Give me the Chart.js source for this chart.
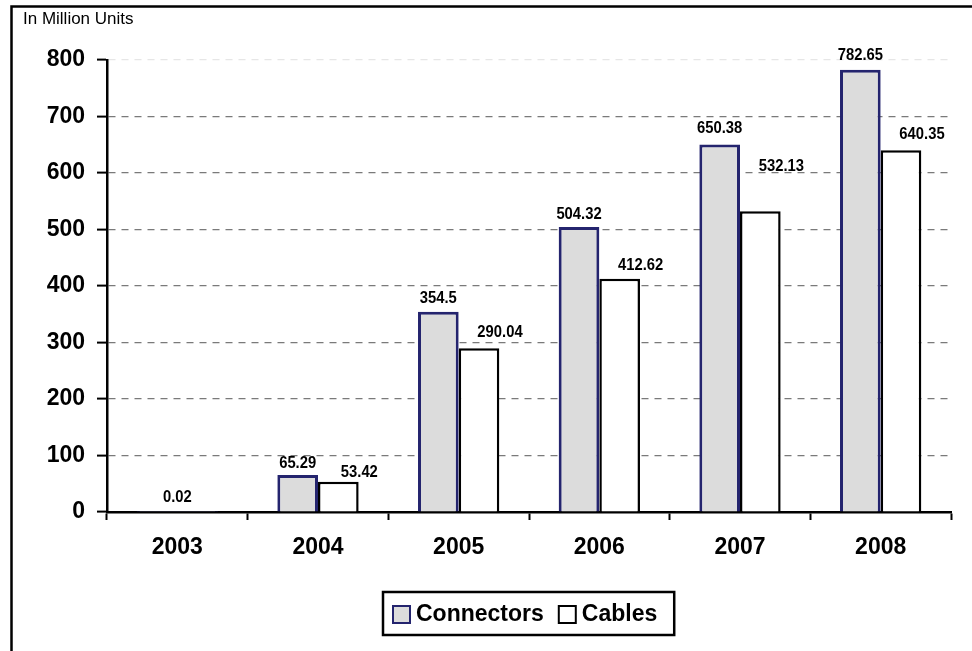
<!DOCTYPE html>
<html lang="en">

<head>
    <meta charset="UTF-8">
    <title>Connectors and Cables</title>
    <script src="https://cdn.jsdelivr.net/npm/chart.js"></script>
    <style>
        body { margin: 0; background: #fff; }
        .chart-container { position: relative; width: 972px; height: 651px; }
    </style>
</head>

<body>
    <div class="chart-container">
        <canvas id="unitsChart"></canvas>
    </div>

    <script>
        const years = ['2003', '2004', '2005', '2006', '2007', '2008'];
        const connectors = [0.02, 65.29, 354.5, 504.32, 650.38, 782.65];
        const cables = [null, 53.42, 290.04, 412.62, 532.13, 640.35];
        const yTicks = [0, 100, 200, 300, 400, 500, 600, 700, 800];

        // how far each value label sits above its bar (px, to the text middle)
        const labelLift = [
            [15, 12, 13, 13, 16, 14],
            [0, 10, 16, 14, 45, 16]
        ];
        const labelShift = [0, 21];

        const boldFont = 'bold 23px "Liberation Sans", Arial, sans-serif';

        // outer frame + unit caption
        const framePlugin = {
            id: 'frame',
            beforeDraw(chart) {
                const ctx = chart.ctx;
                ctx.save();
                ctx.fillStyle = '#fff';
                ctx.fillRect(0, 0, chart.width, chart.height);
                ctx.strokeStyle = '#000';
                ctx.lineWidth = 2.5;
                ctx.beginPath();
                ctx.moveTo(11.5, chart.height);
                ctx.lineTo(11.5, 6.5);
                ctx.lineTo(chart.width, 6.5);
                ctx.stroke();
                ctx.fillStyle = '#000';
                ctx.font = '17px "Liberation Sans", Arial, sans-serif';
                ctx.textBaseline = 'middle';
                ctx.fillText('In Million Units', 23, 19);
                ctx.restore();
            }
        };

        // value labels above the bars (bold, squeezed a little like a narrow face)
        const valueLabels = {
            id: 'valueLabels',
            afterDatasetsDraw(chart) {
                const ctx = chart.ctx;
                const squeeze = 0.87;
                ctx.save();
                ctx.fillStyle = '#000';
                ctx.font = 'bold 17px "Liberation Sans", Arial, sans-serif';
                ctx.textAlign = 'center';
                ctx.textBaseline = 'middle';
                chart.data.datasets.forEach((ds, di) => {
                    const meta = chart.getDatasetMeta(di);
                    meta.data.forEach((bar, i) => {
                        const v = ds.data[i];
                        if (v === null || v === undefined) return;
                        const tx = bar.x + labelShift[di];
                        const ty = bar.y - labelLift[di][i];
                        ctx.save();
                        ctx.translate(tx, ty);
                        ctx.scale(squeeze, 1);
                        ctx.fillText(String(v), 0, 0);
                        ctx.restore();
                    });
                });
                ctx.restore();
            }
        };

        // boxed legend under the axis
        const boxLegend = {
            id: 'boxLegend',
            afterDraw(chart) {
                const ctx = chart.ctx;
                const sq = 17, gapText = 5, gapItem = 14;
                ctx.save();
                ctx.font = boldFont;
                const widths = chart.data.datasets.map(ds => ctx.measureText(ds.label).width);
                let content = 0;
                widths.forEach((w, i) => { content += sq + 2 + gapText + w + (i ? gapItem : 0); });
                const boxW = content + 26;
                const boxL = Math.round((chart.chartArea.left + chart.chartArea.right) / 2 - boxW / 2);
                const boxT = 592, boxH = 43;
                ctx.strokeStyle = '#000';
                ctx.lineWidth = 2.5;
                ctx.strokeRect(boxL, boxT, boxW, boxH);
                const cy = boxT + boxH / 2 + 1;
                let x = boxL + 9;
                ctx.textBaseline = 'middle';
                chart.data.datasets.forEach((ds, i) => {
                    ctx.fillStyle = ds.backgroundColor;
                    ctx.fillRect(x + 1, cy - sq / 2, sq, sq);
                    ctx.strokeStyle = ds.borderColor;
                    ctx.lineWidth = 2;
                    ctx.strokeRect(x + 1, cy - sq / 2, sq, sq);
                    x += sq + 2 + gapText;
                    ctx.fillStyle = '#000';
                    ctx.fillText(ds.label, x, cy);
                    x += widths[i] + gapItem;
                });
                ctx.restore();
            }
        };

        const ctx = document.getElementById('unitsChart').getContext('2d');
        const myChart = new Chart(ctx, {
            type: 'bar',
            data: {
                labels: years,
                datasets: [{
                    label: 'Connectors',
                    data: connectors,
                    backgroundColor: '#dcdcdc',
                    borderColor: '#24246e',
                    borderWidth: 3,
                    skipNull: true
                }, {
                    label: 'Cables',
                    data: cables,
                    backgroundColor: '#ffffff',
                    borderColor: '#000000',
                    borderWidth: 2.5,
                    skipNull: true
                }]
            },
            options: {
                responsive: true,
                maintainAspectRatio: false,
                animation: false,
                datasets: {
                    bar: { barPercentage: 1, categoryPercentage: 0.578 }
                },
                layout: { padding: { left: 0, right: 21, top: 60, bottom: 0 } },
                plugins: {
                    legend: { display: false },
                    tooltip: { enabled: false }
                },
                scales: {
                    x: {
                        afterFit: (scale) => { scale.height = 139; },
                        grid: {
                            drawOnChartArea: false,
                            tickLength: 8,
                            tickColor: '#000',
                            tickWidth: 2
                        },
                        border: { color: '#000', width: 2.5 },
                        ticks: {
                            color: '#000',
                            padding: 14,
                            font: { family: '"Liberation Sans", Arial, sans-serif', size: 23, weight: 'bold' }
                        }
                    },
                    y: {
                        min: 0,
                        max: 800,
                        afterFit: (scale) => { scale.width = 107; },
                        afterBuildTicks: (scale) => { scale.ticks = yTicks.map(v => ({ value: v })); },
                        grid: {
                            color: (c) => c.tick && c.tick.value === 800 ? '#e6e6e6' : '#7a7a7a',
                            lineWidth: 1.2,
                            tickLength: 10,
                            tickColor: '#000',
                            tickWidth: 2,
                            tickBorderDash: []
                        },
                        border: { color: '#000', width: 2.5, dash: [7, 6] },
                        ticks: {
                            color: '#000',
                            padding: 12,
                            font: { family: '"Liberation Sans", Arial, sans-serif', size: 23, weight: 'bold' }
                        }
                    }
                }
            },
            plugins: [framePlugin, valueLabels, boxLegend]
        });
    </script>
</body>

</html>
